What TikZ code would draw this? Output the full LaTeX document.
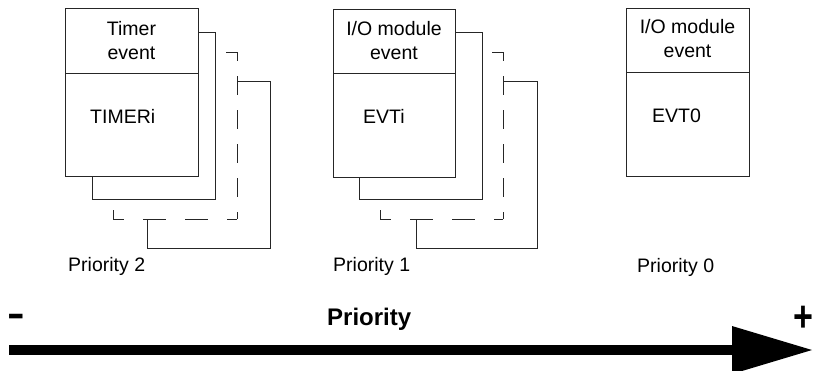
\documentclass[tikz,border=0pt]{standalone}
\usepackage{fontspec}
\setmainfont{Liberation Sans}
\begin{document}
\begin{tikzpicture}[x=1pt,y=-1pt,
  frame/.style={draw=black!85, line width=1pt, fill=white},
  dashv/.style={draw=black!85, line width=1pt, dash pattern=on 19pt off 15pt, dash phase=10pt},
  dashh/.style={draw=black!85, line width=1pt, dash pattern=on 23pt off 19pt, dash phase=12pt},
  rule/.style={draw=black!85, line width=1pt},
  title/.style={inner sep=0pt, align=center, anchor=north,
    font=\fontsize{19.5}{24}\selectfont},
  lbl/.style={inner sep=0pt, anchor=base west, font=\fontsize{19.5}{24}\selectfont},
  bigtxt/.style={inner sep=0pt, anchor=base west, font=\fontsize{24}{28}\selectfont\bfseries}]
\useasboundingbox (0,0) rectangle (816,370);

% ---- priority 2 : timer events (stacked) ----
\draw[frame] (147,81) rectangle (270,248);
\fill[white] (113,52) rectangle (237,219);
\draw[dashv] (237,52) -- (237,219);
\draw[dashh] (113,219) -- (237,219);
\draw[dashh] (237,52) -- (113,52);
\draw[dashv] (113,219) -- (113,52);
\draw[frame] (92,32) rectangle (215,199);
\draw[frame] (65,8) rectangle (198,176);
\draw[rule] (65,73) -- (198,73);
\node[title] (tmrhead) at (131.5,21) {Timer\\event};
\node[lbl] (tmr) at (90,123) {TIMERi};
\node[lbl] (prio2) at (68,271) {Priority 2};

% ---- priority 1 : I/O module events (stacked) ----
\draw[frame] (416,81) rectangle (537,248);
\fill[white] (380,52) rectangle (503,219);
\draw[dashv] (503,52) -- (503,219);
\draw[dashh] (380,219) -- (503,219);
\draw[dashh] (503,52) -- (380,52);
\draw[dashv] (380,219) -- (380,52);
\draw[frame] (359,32) rectangle (482,199);
\draw[frame] (333,9) rectangle (455,177);
\draw[rule] (333,73) -- (455,73);
\node[title] (iohead) at (394,21) {I/O module\\event};
\node[lbl] (evti) at (363,123) {EVTi};
\node[lbl] (prio1) at (333,271) {Priority 1};

% ---- priority 0 : EVT0 ----
\draw[frame] (626,8) rectangle (749,176);
\draw[rule] (626,72) -- (749,72);
\node[title] (io0head) at (687.5,19) {I/O module\\event};
\node[lbl] (evt0) at (652,122) {EVT0};
\node[lbl] (prio0) at (637,272) {Priority 0};

% ---- priority axis ----
\node[bigtxt] (axis) at (327,325) {Priority};
\node[bigtxt] (minus) at (7.7,326.3) {\scalebox{2.2}[1.6]{-}};
\node[bigtxt] (plus) at (793.6,331) {\scalebox{1.42}[1.8]{+}};
\coordinate (tail) at (9,350);
\coordinate (neck) at (732,350);
\coordinate (tip) at (812,350);
\draw[line width=10pt] (tail) -- (neck);
\fill ([yshift=24pt]neck) -- (tip) -- ([yshift=-24pt]neck) -- cycle;
\end{tikzpicture}
\end{document}
